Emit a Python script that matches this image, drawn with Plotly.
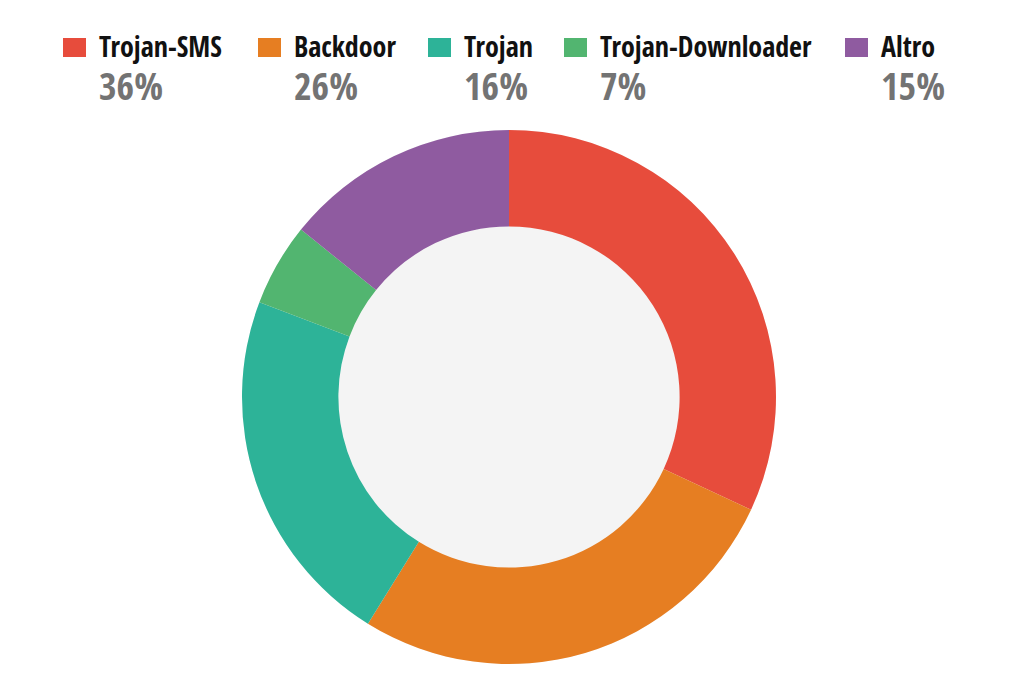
import plotly.graph_objects as go

# categories and values
labels = ["Trojan-SMS", "Backdoor", "Trojan", "Trojan-Downloader", "Altro"]
slice_values = [31.9, 26.9, 21.9, 5.0, 14.2]
pct_labels = ["36%", "26%", "16%", "7%", "15%"]
colors = ["#e74c3c", "#e67e22", "#2db398", "#52b570", "#8f5ba0"]

W, H = 1024, 699
OFF = 8  # page body margin
FONT = "Open Sans Condensed, Open Sans, sans-serif"

# donut geometry (screen pixels)
cx, cy, r = 509 - OFF, 397 - OFF, 267
dom = dict(x=[(cx - r) / W, (cx + r) / W], y=[1 - (cy + r) / H, 1 - (cy - r) / H])

# legend layout (screen pixels)
legend_x = [63, 258, 428, 564, 845]
sq_w, sq_h = 23, 19
sq_top = 38

fig = go.Figure()

# light grey disc behind the donut (shows through the hole)
fig.add_trace(go.Pie(
    values=[1], labels=["bg"], marker=dict(colors=["#f4f4f4"], line=dict(width=0)),
    textinfo="none", hoverinfo="skip", showlegend=False, sort=False, domain=dom,
))

fig.add_trace(go.Pie(
    labels=labels, values=slice_values, hole=0.639,
    marker=dict(colors=colors, line=dict(width=0)),
    sort=False, direction="clockwise", rotation=0,
    textinfo="none", showlegend=False, domain=dom,
))

shapes = []
annotations = []
for x, lab, pct, c in zip(legend_x, labels, pct_labels, colors):
    x -= OFF
    shapes.append(dict(
        type="rect", xref="paper", yref="paper",
        x0=x / W, x1=(x + sq_w) / W,
        y0=1 - (sq_top - OFF + sq_h) / H, y1=1 - (sq_top - OFF) / H,
        fillcolor=c, line=dict(width=0),
    ))
    txt = ("<span style='font-stretch:condensed;font-size:28px;color:#111111'><b>%s</b></span><br>"
           "<span style='font-stretch:condensed;font-size:38px;color:#737373'><b>%s</b></span>") % (lab, pct)
    annotations.append(dict(
        text=txt, xref="paper", yref="paper", align="left",
        x=(x + 34) / W, y=1 - (25 - OFF) / H, xanchor="left", yanchor="top",
        showarrow=False, font=dict(family=FONT, size=33, color="#111111"),
    ))

fig.update_layout(
    width=W, height=H,
    margin=dict(l=0, r=0, t=0, b=0),
    paper_bgcolor="white", plot_bgcolor="white",
    shapes=shapes, annotations=annotations,
    showlegend=False,
)

fig.write_html("out.html")
